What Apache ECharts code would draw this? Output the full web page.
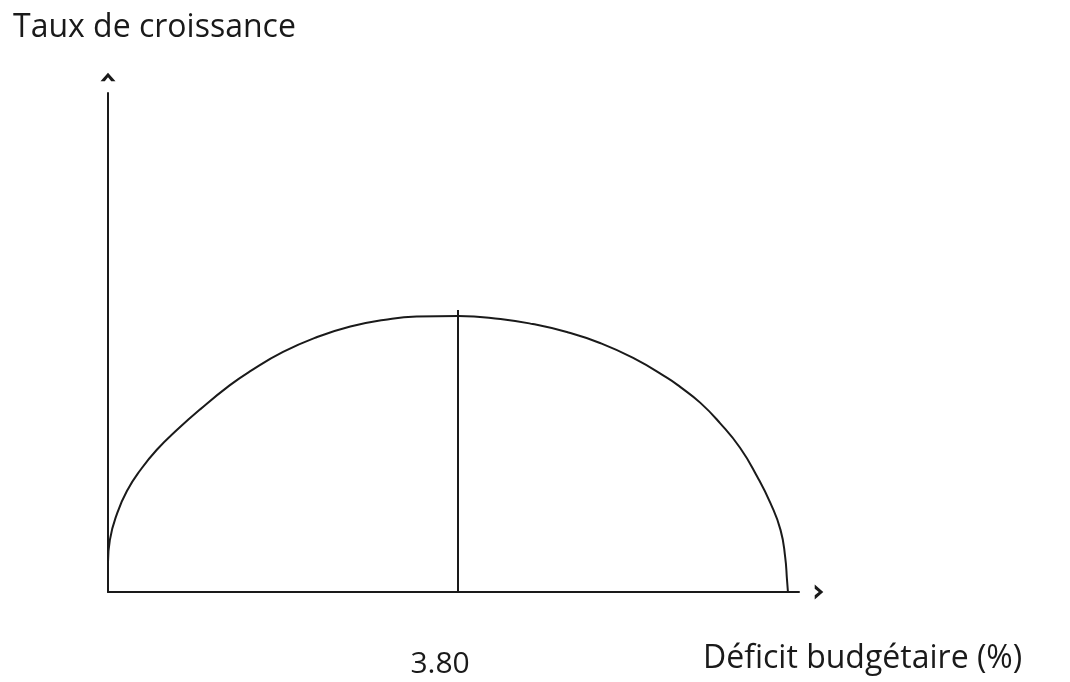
<!DOCTYPE html>
<html style="height: 100%">
    <head>
        <meta charset="utf-8">
    </head>
    <body style="height: 100%; margin: 0; background: #fff">
        <div id="container" style="height: 682px;width: 1070px;"></div>
        <script type="text/javascript" src="https://cdn.jsdelivr.net/npm/echarts@6/dist/echarts.min.js"></script>
        <script type="text/javascript">
// curve (deficit %, growth, arbitrary units)
const curveX = [0, 0.02, 0.10, 0.21, 0.35, 0.53, 0.75, 1.00, 1.32, 1.54, 1.90, 2.27, 2.63, 2.99, 3.35, 3.80, 4.26, 4.61, 4.98, 5.34, 5.70, 6.07, 6.21, 6.43, 6.64, 6.86, 7.05, 7.19, 7.30, 7.35, 7.37, 7.38];
const curveY = [0.60, 1.04, 1.58, 2.04, 2.44, 2.85, 3.25, 3.66, 4.14, 4.42, 4.81, 5.11, 5.32, 5.45, 5.52, 5.53, 5.47, 5.37, 5.21, 4.99, 4.69, 4.29, 4.11, 3.79, 3.39, 2.89, 2.30, 1.78, 1.24, 0.70, 0.24, 0];
const peakX = 3.8;
const peakLineTop = 5.65;
const xTickValues = [3.8];
const yTitle = 'Taux de croissance';
const xTitle = 'Déficit budgétaire (%)';

var dom = document.getElementById("container");
var myChart = echarts.init(dom, null, {renderer: 'canvas'});

// chevron used as the arrow at both axis ends
const caret = 'path://M0,8 L7,0 L14,8 L10,8 L7,4.2 L4,8 Z';
const ink = '#1a1a1a';
const font = 'Open Sans';

var option = {
    animation: false,
    textStyle: { fontFamily: font, color: ink },
    title: [
        {
            text: yTitle,
            left: 8,
            top: 7,
            textStyle: { fontFamily: font, fontSize: 32, fontWeight: 'normal', color: ink }
        },
        {
            text: xTitle,
            left: 698,
            top: 638,
            textStyle: { fontFamily: font, fontSize: 32, fontWeight: 'normal', color: ink }
        }
    ],
    grid: {
        left: 108,
        right: 271,
        top: 93,
        bottom: 90
    },
    xAxis: {
        type: 'value',
        min: 0,
        max: 7.5,
        splitLine: { show: false },
        axisTick: { show: false },
        axisLine: {
            show: true,
            symbol: ['none', caret],
            symbolSize: [15, 9],
            symbolOffset: [0, 20],
            lineStyle: { color: ink, width: 2 }
        },
        axisLabel: {
            customValues: xTickValues,
            margin: 57,
            fontSize: 30,
            color: ink,
            padding: [0, 36, 0, 0],
            formatter: function (v) {
                return v.toFixed(2);
            }
        }
    },
    yAxis: {
        type: 'value',
        min: 0,
        max: 10,
        splitLine: { show: false },
        axisTick: { show: false },
        axisLabel: { show: false },
        axisLine: {
            show: true,
            symbol: ['none', caret],
            symbolSize: [15, 9],
            symbolOffset: [0, 16],
            lineStyle: { color: ink, width: 2 }
        }
    },
    series: [
        {
            type: 'line',
            data: curveX.map(function (x, i) { return [x, curveY[i]]; }),
            smooth: 0.5,
            showSymbol: false,
            symbol: 'none',
            lineStyle: { color: ink, width: 2 },
            markLine: {
                silent: true,
                symbol: 'none',
                label: { show: false },
                lineStyle: { color: ink, width: 2, type: 'solid' },
                data: [
                    [ { coord: [peakX, 0] }, { coord: [peakX, peakLineTop] } ]
                ]
            }
        }
    ]
};

myChart.setOption(option);
        </script>
    </body>
</html>
